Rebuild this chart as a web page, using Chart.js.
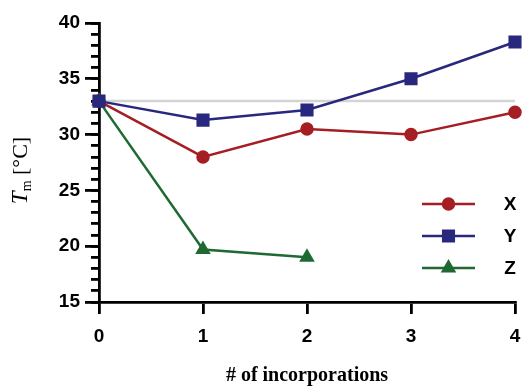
<!DOCTYPE html>
<html>
<head>
<meta charset="utf-8">
<script src="https://cdn.jsdelivr.net/npm/chart.js@4"></script>
<style>
  html, body { margin: 0; padding: 0; background: #fff; overflow: hidden; }
  #wrap { width: 525px; height: 388px; overflow: hidden; }
</style>
</head>
<body>
<div id="wrap"><canvas id="tmChart" width="525" height="388"></canvas></div>
<script>
// data
const incorporations = ['0', '1', '2', '3', '4'];
const seriesX = [33, 28, 30.5, 30, 32];
const seriesY = [33, 31.3, 32.2, 35, 38.3];
const seriesZ = [33, 19.7, 19.0];
const baseline = [33, 33, 33, 33, 33];
const yTicks = [15, 20, 25, 30, 35, 40];
const legendOrder = ['X', 'Y', 'Z'];

const RED = '#a51e23';
const BLUE = '#28287e';
const GREEN = '#1f6a32';
const tickFont = { family: 'Liberation Sans', size: 19, weight: 'bold' };
const PLOT_RIGHT = 518; // where the x axis ends in the original

// legend drawn as line + marker, like the original
const legendPlugin = {
  id: 'lineLegend',
  afterDatasetsDraw(chart) {
    const ctx = chart.ctx;
    const area = chart.chartArea;
    legendOrder.forEach((name, i) => {
      const d = chart.data.datasets.find(ds => ds.label === name);
      const y = area.top + 181 + i * 32;
      const x0 = area.right - 93, x1 = area.right - 40;
      ctx.save();
      ctx.strokeStyle = d.borderColor;
      ctx.lineWidth = 2.5;
      ctx.beginPath();
      ctx.moveTo(x0, y);
      ctx.lineTo(x1, y);
      ctx.stroke();
      ctx.fillStyle = d.pointBackgroundColor;
      ctx.strokeStyle = d.pointBackgroundColor;
      Chart.helpers.drawPoint(ctx, {
        pointStyle: d.pointStyle, radius: d.pointRadius, rotation: 0, borderWidth: 1
      }, (x0 + x1) / 2, y);
      ctx.fillStyle = '#000';
      ctx.font = 'bold 19px "Liberation Sans"';
      ctx.textAlign = 'center';
      ctx.textBaseline = 'middle';
      ctx.fillText(d.label, area.right - 5, y + 1);
      ctx.restore();
    });
  }
};

// y axis title with italic T and subscript m
const yTitlePlugin = {
  id: 'yTitle',
  afterDraw(chart) {
    const ctx = chart.ctx;
    const area = chart.chartArea;
    const cy = (area.top + area.bottom) / 2 + 8;
    ctx.save();
    ctx.translate(27, cy);
    ctx.rotate(-Math.PI / 2);
    ctx.fillStyle = '#000';
    ctx.textBaseline = 'alphabetic';
    const mainFont = 'italic 23px "Liberation Serif"';
    const subFont = '14px "Liberation Serif"';
    const restFont = '22px "Liberation Serif"';
    ctx.font = mainFont; const wT = ctx.measureText('T').width;
    ctx.font = subFont; const wM = ctx.measureText('m').width;
    ctx.font = restFont; const wR = ctx.measureText(' [°C]').width;
    let x = -(wT + wM + wR) / 2;
    ctx.font = mainFont; ctx.fillText('T', x, 0); x += wT;
    ctx.font = subFont; ctx.fillText('m', x, 4); x += wM;
    ctx.font = restFont; ctx.fillText(' [°C]', x, 0);
    ctx.restore();
  }
};

const ctx = document.getElementById('tmChart').getContext('2d');
const tmChart = new Chart(ctx, {
  type: 'line',
  data: {
    labels: incorporations,
    datasets: [
      {
        label: 'ref',
        data: baseline,
        borderColor: '#d4d4d4',
        borderWidth: 2.5,
        pointRadius: 0,
        order: 10
      },
      {
        label: 'Z',
        data: seriesZ,
        borderColor: GREEN,
        borderWidth: 2.5,
        pointStyle: 'triangle',
        pointRadius: 6.5,
        pointBackgroundColor: GREEN,
        pointBorderColor: GREEN,
        order: 3
      },
      {
        label: 'X',
        data: seriesX,
        borderColor: RED,
        borderWidth: 2.5,
        pointStyle: 'circle',
        pointRadius: 5.5,
        pointBackgroundColor: RED,
        pointBorderColor: RED,
        order: 2
      },
      {
        label: 'Y',
        data: seriesY,
        borderColor: BLUE,
        borderWidth: 2.5,
        pointStyle: 'rect',
        pointRadius: 7.5,
        pointBackgroundColor: BLUE,
        pointBorderColor: BLUE,
        order: 1
      }
    ]
  },
  options: {
    animation: false,
    responsive: false,
    layout: { padding: { top: 23, right: 0, left: 0, bottom: 0 } },
    plugins: {
      legend: { display: false },
      tooltip: { enabled: false }
    },
    scales: {
      x: {
        offset: false,
        grid: {
          drawOnChartArea: false,
          tickLength: 12,
          color: '#000',
          lineWidth: 2.8
        },
        border: { color: '#000', width: 2.8 },
        ticks: { color: '#000', font: tickFont, padding: 11, maxRotation: 0 },
        title: {
          display: true,
          text: '# of incorporations',
          color: '#000',
          font: { family: 'Liberation Serif', size: 20, weight: 'bold' },
          padding: { top: 11, bottom: 0 }
        },
        afterFit(s) {
          s.height = 86;
          s.paddingLeft = 0;
          s.paddingRight = 0;
        }
      },
      yMinor: {
        position: 'left',
        weight: 0,
        min: 15,
        max: 40,
        ticks: { display: false, stepSize: 1 },
        grid: {
          drawOnChartArea: false,
          tickLength: 8,
          color: '#000',
          lineWidth: 2.8
        },
        border: { display: false },
        afterFit(s) { s.width = 0; }
      },
      y: {
        position: 'left',
        weight: 1,
        min: 15,
        max: 40,
        afterBuildTicks(s) { s.ticks = yTicks.map(v => ({ value: v })); },
        grid: {
          drawOnChartArea: false,
          tickLength: 14,
          color: '#000',
          lineWidth: 2.8
        },
        border: { color: '#000', width: 2.8 },
        ticks: { color: '#000', font: tickFont, padding: 5 },
        afterFit(s) { s.width = 99; }
      }
    }
  },
  plugins: [legendPlugin, yTitlePlugin]
});

// the last tick label forces a right margin; widen the canvas (clipped by #wrap)
// so the x axis ends where it does in the original
const extra = Math.round(PLOT_RIGHT - tmChart.chartArea.right);
if (extra > 0) tmChart.resize(525 + extra, 388);
</script>
</body>
</html>
